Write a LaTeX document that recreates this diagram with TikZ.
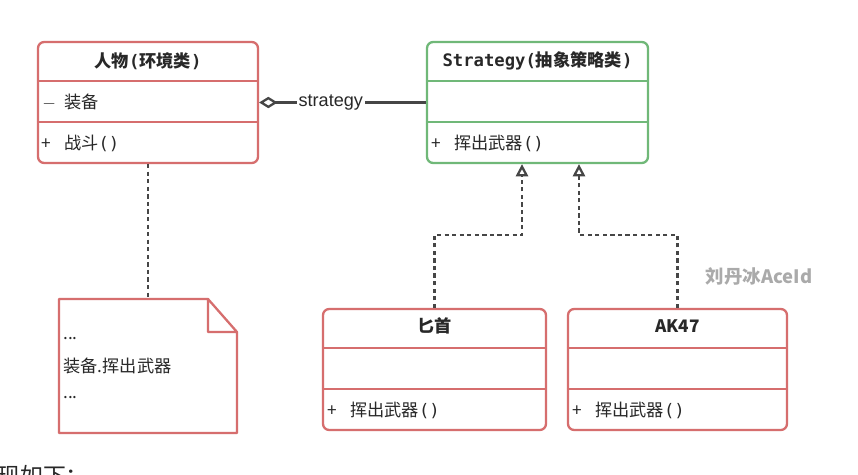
\documentclass[tikz,border=0pt]{standalone}
\usepackage{fontspec}
\setmainfont{Noto Sans CJK SC}
\newfontfamily\monofont{DejaVu Sans Mono}
\newfontfamily\latinfont{Liberation Sans}
\usetikzlibrary{arrows.meta,positioning}

\definecolor{umlred}{RGB}{214,110,110}
\definecolor{umlgreen}{RGB}{112,184,120}
\definecolor{ink}{RGB}{40,40,40}
\definecolor{wmark}{RGB}{170,170,170}
\definecolor{linkgray}{RGB}{70,70,70}

\newcommand{\parens}{{\monofont()}}

\tikzset{
  classbox/.style={draw=#1, line width=1.3pt, rounded corners=3.5pt, inner sep=0pt,
    minimum width=4.4cm, minimum height=2.42cm},
  headtext/.style={inner sep=0pt, text=ink, font=\fontsize{9.8}{11}\selectfont\bfseries},
  memtext/.style={anchor=west, inner sep=0pt, text=ink, font=\fontsize{9.8}{11}\selectfont},
  realize/.style={draw=linkgray, line width=1.5pt, dash pattern=on 2.4pt off 1.9pt,
    -{Triangle[open,width=7pt,length=7pt,line width=1.3pt]}},
}

\begin{document}
\begin{tikzpicture}[x=0.02cm,y=-0.02cm]
  \fill[white] (0,0) rectangle (858,474);
  \useasboundingbox (0,0) rectangle (858,474);

  % classes
  \node[classbox=umlred] (person) at (148,102.5) {};
  \node[classbox=umlgreen, minimum width=4.42cm] (strategy) at (537.5,102.5) {};
  \node[classbox=umlred, minimum width=4.46cm] (dagger) at (434.5,369.5) {};
  \node[classbox=umlred, minimum width=4.38cm] (ak) at (677.5,369.5) {};

  \foreach \c/\col in {person/umlred, strategy/umlgreen, dagger/umlred, ak/umlred}
    \draw[draw=\col, line width=1.3pt]
      ([yshift=-0.8cm]\c.north west) -- ([yshift=-0.8cm]\c.north east)
      ([yshift=-1.62cm]\c.north west) -- ([yshift=-1.62cm]\c.north east);

  \node[headtext] (personname) at ([yshift=-0.4cm]person.north)
    {人物{\monofont\bfseries(}环境类{\monofont\bfseries)}};
  \node[memtext] (personattr) at (42,102) {\makebox[12.5pt][l]{$-$}装备};
  \node[memtext] (personop) at (41,143) {\makebox[13pt][l]{+}战斗\parens};

  \node[headtext] (strategyname) at ([yshift=-0.4cm]strategy.north)
    {{\monofont\bfseries Strategy(}抽象策略类{\monofont\bfseries)}};
  \node[memtext] (strategyop) at (431,143) {\makebox[13pt][l]{+}挥出武器\parens};

  \node[headtext] (daggername) at ([yshift=-0.36cm]dagger.north) {匕首};
  \node[memtext] (daggerop) at (327,410) {\makebox[13pt][l]{+}挥出武器\parens};

  \node[headtext] (akname) at ([yshift=-0.36cm]ak.north) {AK47};
  \node[memtext] (akop) at (572,410) {\makebox[13pt][l]{+}挥出武器\parens};

  % note
  \draw[umlred, line width=1.3pt, line join=round]
    (59,299) -- (208,299) -- (237,332) -- (237,433) -- (59,433) -- cycle
    (208,299) -- (208,332) -- (237,332);
  \coordinate (notetop) at (148,299);
  \node[memtext] (dots1) at (63,339) {...};
  \node[memtext] (notecall) at (63,366) {装备.挥出武器};
  \node[memtext] (dots2) at (63,398) {...};
  \draw[linkgray, line width=1.5pt, dash pattern=on 2.4pt off 1.9pt] (person.south) -- (notetop);

  % aggregation
  \draw[linkgray, line width=1.4pt, {Diamond[open,width=6.5pt,length=10.5pt,line width=1.3pt]}-]
    (person.east) -- node[pos=0.43, fill=white, inner sep=1pt, text=ink,
      font=\latinfont\fontsize{10.3}{12}\selectfont] (agglabel) {strategy} (strategy.west);

  % realization
  \draw[realize] (dagger.north) -- ++(0,-73) -| ([xshift=-0.31cm]strategy.south);
  \draw[realize] (ak.north) -- ++(0,-73) -| ([xshift=0.83cm]strategy.south);

  % watermark and cut-off line
  \node[text=wmark, font=\fontsize{10.5}{12}\selectfont\bfseries] (mark) at (759,276) {刘丹冰AceId};
  \node[anchor=base west, inner sep=0pt, text=ink, font=\fontsize{13}{15}\selectfont] (tail) at (-3,484) {现如下：};
\end{tikzpicture}
\end{document}
